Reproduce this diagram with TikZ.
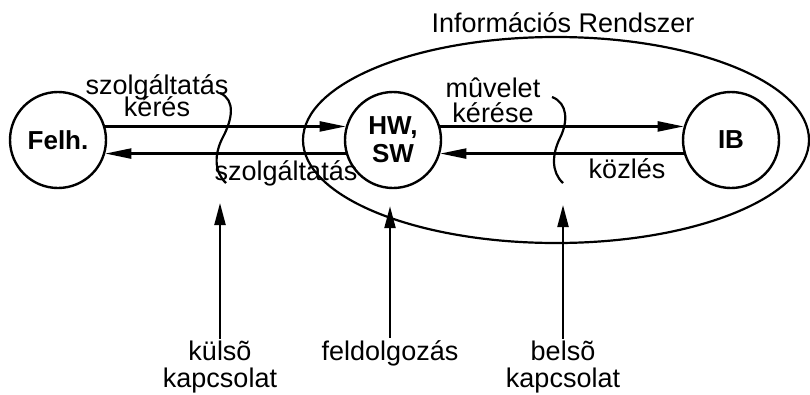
\documentclass[tikz,border=0pt]{standalone}
\usepackage{fontspec}
\setmainfont{Liberation Sans}
\usetikzlibrary{shapes.geometric, arrows.meta, positioning}
\newcommand\tightlines[1]{\fontsize{27}{#1}\selectfont\lineskiplimit=-100pt\relax}

\begin{document}
\begin{tikzpicture}[x=1pt, y=-1pt,
    actor/.style={draw, circle, line width=2.4pt, minimum size=96pt, inner sep=0pt, align=center, font=\fontsize{26}{28}\selectfont\bfseries},
    txt/.style={align=center, inner sep=2pt, font=\fontsize{27}{27}\selectfont},
    arrow/.style={-{Triangle[length=26pt, width=10pt]}, line width=2.2pt},
    uparrow/.style={-{Triangle[length=22pt, width=11pt]}, line width=2.2pt},
    wave/.style={line width=2.2pt}
]
    \useasboundingbox (0,0) rectangle (810,394);

    \node (rendszer) [draw, ellipse, line width=2.2pt, minimum width=506pt, minimum height=206pt, inner sep=0pt] at (556,140) {};
    \node (cim) [txt, anchor=base] at (563,32) {Információs Rendszer};

    \node (felh) [actor] at (58,140) {Felh.};
    \node (hwsw) [actor] at (393,140) {HW,\\SW};
    \node (ib) [actor] at (731,140) {IB};

    \draw [arrow] (felh.16) -- (hwsw.164);
    \draw [arrow] (hwsw.196) -- (felh.-16);
    \draw [arrow] (hwsw.16) -- (ib.164);
    \draw [arrow] (ib.196) -- (hwsw.-16);

    \node (keres) [txt, font={\tightlines{22}}] at (157,96) {szolgáltatás\\kérés};
    \node (szolg) [txt, anchor=base] at (286,180) {szolgáltatás};
    \node (muvelet) [txt, font={\tightlines{25}}] at (493,100) {mûvelet\\kérése};
    \node (kozles) [txt, anchor=base] at (627,178) {közlés};

    \draw [wave] (220,93) .. controls (236,100) and (232,120) .. (223,137) .. controls (214,154) and (214,172) .. (226,183) coordinate (wave1);
    \draw [wave] (552,97) .. controls (568,103) and (568,122) .. (560,138) .. controls (552,154) and (551,172) .. (563,183) coordinate (wave2);

    \node (kulso) [txt] at (220,367) {külsõ\\kapcsolat};
    \node (feldolg) [txt, anchor=base] at (390,360) {feldolgozás};
    \node (belso) [txt] at (563,367) {belsõ\\kapcsolat};

    \draw [uparrow, shorten >=20pt] (kulso) -- (kulso |- wave1);
    \draw [uparrow, shorten >=17pt] (feldolg) -- (feldolg |- hwsw.south);
    \draw [uparrow, shorten >=22pt] (belso) -- (belso |- wave2);
\end{tikzpicture}
\end{document}
